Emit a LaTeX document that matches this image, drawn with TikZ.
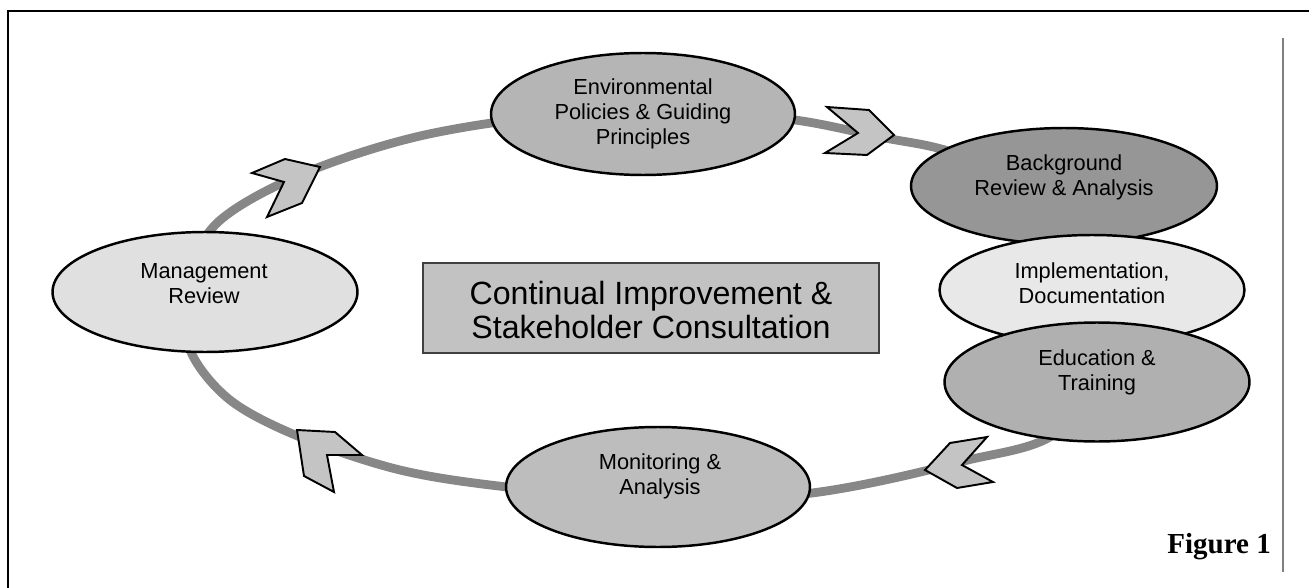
\documentclass[tikz,border=0pt]{standalone}
\usepackage{fontspec}
\setmainfont{Liberation Sans}
\newfontfamily\capfont{Liberation Serif}
\usetikzlibrary{shapes.geometric}
\definecolor{ringgrey}{gray}{0.53}
\definecolor{chevgrey}{gray}{0.77}
\definecolor{envgrey}{gray}{0.71}
\definecolor{bggrey}{gray}{0.59}
\definecolor{implgrey}{gray}{0.91}
\definecolor{edugrey}{gray}{0.69}
\definecolor{mongrey}{gray}{0.74}
\definecolor{mgmtgrey}{gray}{0.88}
\definecolor{boxgrey}{gray}{0.76}
\begin{document}
\begin{tikzpicture}[x=0.02cm,y=-0.02cm,
  stage/.style={ellipse,draw=black,line width=1.4pt,inner sep=0pt,minimum width=6.08cm,minimum height=2.4cm},
  lbl/.style={align=center,font=\fontsize{12.4}{14.2}\selectfont,text=black},
  chev/.style={fill=chevgrey,draw=black,line width=1.1pt}]
\useasboundingbox (0,0) rectangle (1309,588);
\draw[line width=1.7pt] (8,588) -- (8,11) -- (1309,11);
\draw[gray,line width=1.1pt] (1283,38) -- (1283,572);
\draw[ringgrey,line width=5pt] plot[smooth cycle,tension=0.55] coordinates {(185,292) (215,225) (300,175) (420,136) (560,115) (700,113) (795,120) (880,137) (960,155) (1075,210) (1105,300) (1065,425) (960,462) (812,493) (658,500) (507,487) (400,470) (300,437) (230,400) (190,350)};
\filldraw[chev] (252,173) -- (285,159) -- (320,167) -- (302,203) -- (267,217) -- (284,182) -- cycle;
\filldraw[chev] (827,107) -- (869,110) -- (894,135) -- (867,155) -- (825,153) -- (858,133) -- cycle;
\filldraw[chev] (925,470) -- (950,443) -- (987,437) -- (962,465) -- (993,482) -- (957,488) -- cycle;
\filldraw[chev] (297,430) -- (335,432) -- (362,455) -- (327,455) -- (334,492) -- (304,476) -- cycle;
\node[stage,fill=envgrey,minimum height=2.44cm] (env) at (643,114) {};
\node[lbl] (env-t) at (env) {Environmental\\Policies \& Guiding\\Principles};
\node[stage,fill=bggrey,minimum width=6.12cm,minimum height=2.32cm] (bg) at (1064,186) {};
\node[lbl] (bg-t) at (1064,177) {Background\\Review \& Analysis};
\node[stage,fill=implgrey,minimum width=6.1cm,minimum height=2.2cm] (impl) at (1092,290) {};
\node[lbl] (impl-t) at (1092,283) {Implementation,\\Documentation};
\node[stage,fill=edugrey,minimum width=6.1cm,minimum height=2.38cm] (edu) at (1097,382) {};
\node[lbl] (edu-t) at (1097,372) {Education \&\\Training};
\node[stage,fill=mongrey] (mon) at (658,487) {};
\node[lbl] (mon-t) at (660,476) {Monitoring \&\\Analysis};
\node[stage,fill=mgmtgrey,minimum width=6.1cm] (mgmt) at (205,292) {};
\node[lbl] (mgmt-t) at (204,284) {Management\\Review};
\node[draw=black!75,line width=0.9pt,fill=boxgrey,minimum width=9.12cm,minimum height=1.8cm,inner sep=0pt] (core) at (651,308) {};
\node[align=center,font=\fontsize{18.3}{19.8}\selectfont,text=black] (core-t) at (651,310) {Continual Improvement \&\\Stakeholder Consultation};
\node[anchor=east,font=\capfont\bfseries\fontsize{16.5}{18}\selectfont] (fig) at (1277,547) {Figure 1};
\end{tikzpicture}
\end{document}
